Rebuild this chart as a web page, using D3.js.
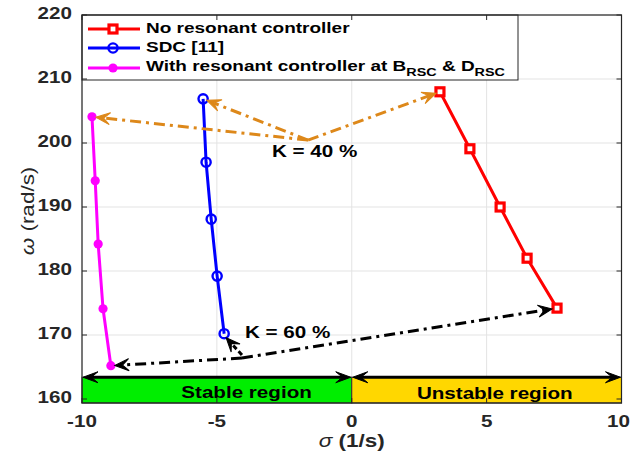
<!DOCTYPE html>
<html><head><meta charset="utf-8">
<script src="https://cdn.jsdelivr.net/npm/d3@7"></script>
<style>body{margin:0;background:#fff}svg{display:block}</style>
</head><body>
<svg id="c" width="631" height="457"></svg>
<script>
// ---- data ----
const noResSigma = [3.27, 4.38, 5.50, 6.50, 7.61];
const noResOmega = [208.0, 199.1, 190.0, 182.0, 174.2];
const sdcSigma = [-5.51, -5.40, -5.21, -4.99, -4.73];
const sdcOmega = [206.9, 197.0, 188.1, 179.2, 170.2];
const withResSigma = [-9.63, -9.51, -9.40, -9.22, -8.93];
const withResOmega = [204.1, 194.1, 184.2, 174.1, 165.2];
const xTicks = [-10, -5, 0, 5, 10];
const yTicks = [160, 170, 180, 190, 200, 210, 220];
const seriesNames = ["No resonant controller", "SDC [11]", "With resonant controller at B"];
const regionNames = ["Stable region", "Unstable region"];
const kLabels = ["K = 40 %", "K = 60 %"];
// annotation anchor points (data units)
const k40Vertex = [-1.62, 200.45];
const k60Vertex = [-4.07, 166.4];
const bandTop = 163.4;

const svg = d3.select("#c");
const L = 82, R = 621.5, T = 15, B = 403;
const x = d3.scaleLinear().domain([-10, 10]).range([L, R]);
const y = d3.scaleLinear().domain([159.375, 220]).range([B, T]);
const SX = 1.25;
const FONT = "'Liberation Sans', Arial, Helvetica, sans-serif";

function txt(g, s, px, py, opts = {}) {
  const t = g.append("text")
    .attr("transform", `translate(${px},${py}) scale(${opts.sx || SX},1)`)
    .attr("font-family", FONT)
    .attr("font-size", opts.size || 16)
    .attr("font-weight", opts.weight || "bold")
    .attr("fill", opts.fill || "#000")
    .attr("text-anchor", opts.anchor || "start")
    .attr("dominant-baseline", "middle")
    .text(s);
  return t;
}

// grid
const grid = svg.append("g");
xTicks.forEach(v => grid.append("line").attr("x1", x(v)).attr("x2", x(v)).attr("y1", T).attr("y2", B)
  .attr("stroke", "#e3e3e3").attr("stroke-width", 1));
yTicks.forEach(v => grid.append("line").attr("y1", y(v)).attr("y2", y(v)).attr("x1", L).attr("x2", R)
  .attr("stroke", "#e3e3e3").attr("stroke-width", 1));

// region band
const band = svg.append("g");
band.append("rect").attr("x", x(-10)).attr("width", x(0) - x(-10)).attr("y", y(bandTop)).attr("height", y(159.375) - y(bandTop))
  .attr("fill", "#00ee00").attr("stroke", "#333").attr("stroke-width", 1);
band.append("rect").attr("x", x(0)).attr("width", x(10) - x(0)).attr("y", y(bandTop)).attr("height", y(159.375) - y(bandTop))
  .attr("fill", "#ffd700").attr("stroke", "#333").attr("stroke-width", 1);

function arrowHead(g, x1, y1, x2, y2, color, len = 14, w = 6) {
  const a = Math.atan2(y2 - y1, x2 - x1);
  g.append("path")
    .attr("d", `M0,0 L${-len},${-w} L${-len * 0.55},0 L${-len},${w} Z`)
    .attr("transform", `translate(${x2},${y2}) rotate(${a * 180 / Math.PI})`)
    .attr("fill", color).attr("stroke", color).attr("stroke-width", 1).attr("stroke-linejoin", "miter");
}
function arrow(g, p1, p2, color, dash, sw = 3, shorten = 0) {
  const [x1, y1] = p1; let [x2, y2] = p2;
  const a = Math.atan2(y2 - y1, x2 - x1);
  x2 -= Math.cos(a) * shorten; y2 -= Math.sin(a) * shorten;
  const ex = x2 - Math.cos(a) * 8, ey = y2 - Math.sin(a) * 8;
  g.append("line").attr("x1", x1).attr("y1", y1).attr("x2", ex).attr("y2", ey)
    .attr("stroke", color).attr("stroke-width", sw).attr("stroke-dasharray", dash);
  arrowHead(g, x1, y1, x2, y2, color);
}

// double arrows on band
const ba = svg.append("g");
[[-10, 0], [0, 10]].forEach(([a, b]) => {
  const y0 = y(bandTop);
  ba.append("line").attr("x1", x(a) + 6).attr("x2", x(b) - 6).attr("y1", y0).attr("y2", y0).attr("stroke", "#000").attr("stroke-width", 2.8);
  arrowHead(ba, x(b), y0, x(a) + 1, y0, "#000", 15, 5.5);
  arrowHead(ba, x(a), y0, x(b) - 1, y0, "#000", 15, 5.5);
});
txt(svg, regionNames[0], x(-3.9), 394, { size: 16.5, anchor: "middle" });
txt(svg, regionNames[1], x(5.3), 395, { size: 16.5, anchor: "middle" });

// series
const series = [
  { s: noResSigma, o: noResOmega, color: "#ff0000", marker: "square" },
  { s: sdcSigma, o: sdcOmega, color: "#0000ff", marker: "circle" },
  { s: withResSigma, o: withResOmega, color: "#ff00ff", marker: "dot" }
];
const line = d3.line().x(d => x(d[0])).y(d => y(d[1]));
function drawMarker(g, kind, px, py, color) {
  if (kind === "square") g.append("rect").attr("x", px - 4).attr("y", py - 4).attr("width", 8).attr("height", 8)
    .attr("fill", "#fff").attr("stroke", color).attr("stroke-width", 3.2);
  else if (kind === "circle") g.append("circle").attr("cx", px).attr("cy", py).attr("r", 4.6)
    .attr("fill", "none").attr("stroke", color).attr("stroke-width", 2.4);
  else g.append("circle").attr("cx", px).attr("cy", py).attr("r", 4.6).attr("fill", color);
}
const sg = svg.append("g");
series.forEach(S => {
  const pts = S.s.map((v, i) => [v, S.o[i]]);
  sg.append("path").attr("d", line(pts)).attr("fill", "none").attr("stroke", S.color).attr("stroke-width", 3);
  pts.forEach(p => drawMarker(sg, S.marker, x(p[0]), y(p[1]), S.color));
});

// annotations
const an = svg.append("g");
const orange = "#dd881a";
const v40 = [x(k40Vertex[0]), y(k40Vertex[1])];
[[withResSigma[0], withResOmega[0]], [sdcSigma[0], sdcOmega[0]], [noResSigma[0], noResOmega[0]]].forEach(p => {
  arrow(an, v40, [x(p[0]), y(p[1])], orange, "11,5,3,5", 3, 4);
});
const v60 = [x(k60Vertex[0]), y(k60Vertex[1])];
arrow(an, v60, [x(withResSigma[4]), y(withResOmega[4])], "#000", "11,5,3,5", 3, 4);
arrow(an, v60, [x(noResSigma[4]), y(noResOmega[4])], "#000", "11,5,3,5", 3, 5);
arrow(an, [v60[0], v60[1] - 3], [x(sdcSigma[4]) + 2, y(sdcOmega[4]) + 4], "#000", "5,3", 3, 0);
txt(an, kLabels[0], 272, 153, { size: 16.5 });
txt(an, kLabels[1], 245, 334, { size: 16.5 });

// legend
const lg = svg.append("g");
lg.append("rect").attr("x", L).attr("y", T).attr("width", 518 - L).attr("height", 80 - T)
  .attr("fill", "#fff").attr("stroke", "#262626").attr("stroke-width", 1);
const rows = [29, 48, 68];
series.forEach((S, i) => {
  lg.append("line").attr("x1", 88).attr("x2", 140).attr("y1", rows[i]).attr("y2", rows[i]).attr("stroke", S.color).attr("stroke-width", 3);
  drawMarker(lg, S.marker, 113, rows[i], S.color);
});
txt(lg, seriesNames[0], 146, 29, { size: 15.2 });
txt(lg, seriesNames[1], 146, 48, { size: 15.2 });
const t3 = txt(lg, "", 146, 67, { size: 15.2 });
t3.append("tspan").text(seriesNames[2]);
t3.append("tspan").attr("font-size", 11.5).attr("dy", 6).text("RSC");
t3.append("tspan").attr("dy", -6).text(" & D");
t3.append("tspan").attr("font-size", 11.5).attr("dy", 6).text("RSC");

// axes box + ticks
const ax = svg.append("g");
ax.append("rect").attr("x", L).attr("y", T).attr("width", R - L).attr("height", B - T)
  .attr("fill", "none").attr("stroke", "#262626").attr("stroke-width", 1.2);
xTicks.forEach((v, i) => {
  ax.append("line").attr("x1", x(v)).attr("x2", x(v)).attr("y1", B).attr("y2", B - 5).attr("stroke", "#262626");
  ax.append("line").attr("x1", x(v)).attr("x2", x(v)).attr("y1", T).attr("y2", T + 5).attr("stroke", "#262626");
  const last = i === xTicks.length - 1;
  txt(ax, String(v), last ? 630 : x(v), 423, { size: 16.5, anchor: last ? "end" : "middle", fill: "#262626" });
});
yTicks.forEach(v => {
  ax.append("line").attr("x1", L).attr("x2", L + 5).attr("y1", y(v)).attr("y2", y(v)).attr("stroke", "#262626");
  ax.append("line").attr("x1", R).attr("x2", R - 5).attr("y1", y(v)).attr("y2", y(v)).attr("stroke", "#262626");
  txt(ax, String(v), 72, y(v), { size: 16.5, anchor: "end", fill: "#262626" });
});
// axis labels
const xl = txt(ax, "", x(0), 443, { size: 18, anchor: "middle", fill: "#262626" });
xl.append("tspan").attr("font-style", "italic").attr("font-weight", "normal").text("σ");
xl.append("tspan").text(" (1/s)");
const yl = ax.append("text")
  .attr("transform", `translate(30,${(T + B) / 2 + 2}) rotate(-90) scale(1.25,1)`)
  .attr("font-family", FONT).attr("font-size", 18).attr("fill", "#262626")
  .attr("text-anchor", "middle").attr("dominant-baseline", "middle");
yl.append("tspan").attr("font-style", "italic").text("ω");
yl.append("tspan").text(" (rad/s)");
</script>
</body></html>
